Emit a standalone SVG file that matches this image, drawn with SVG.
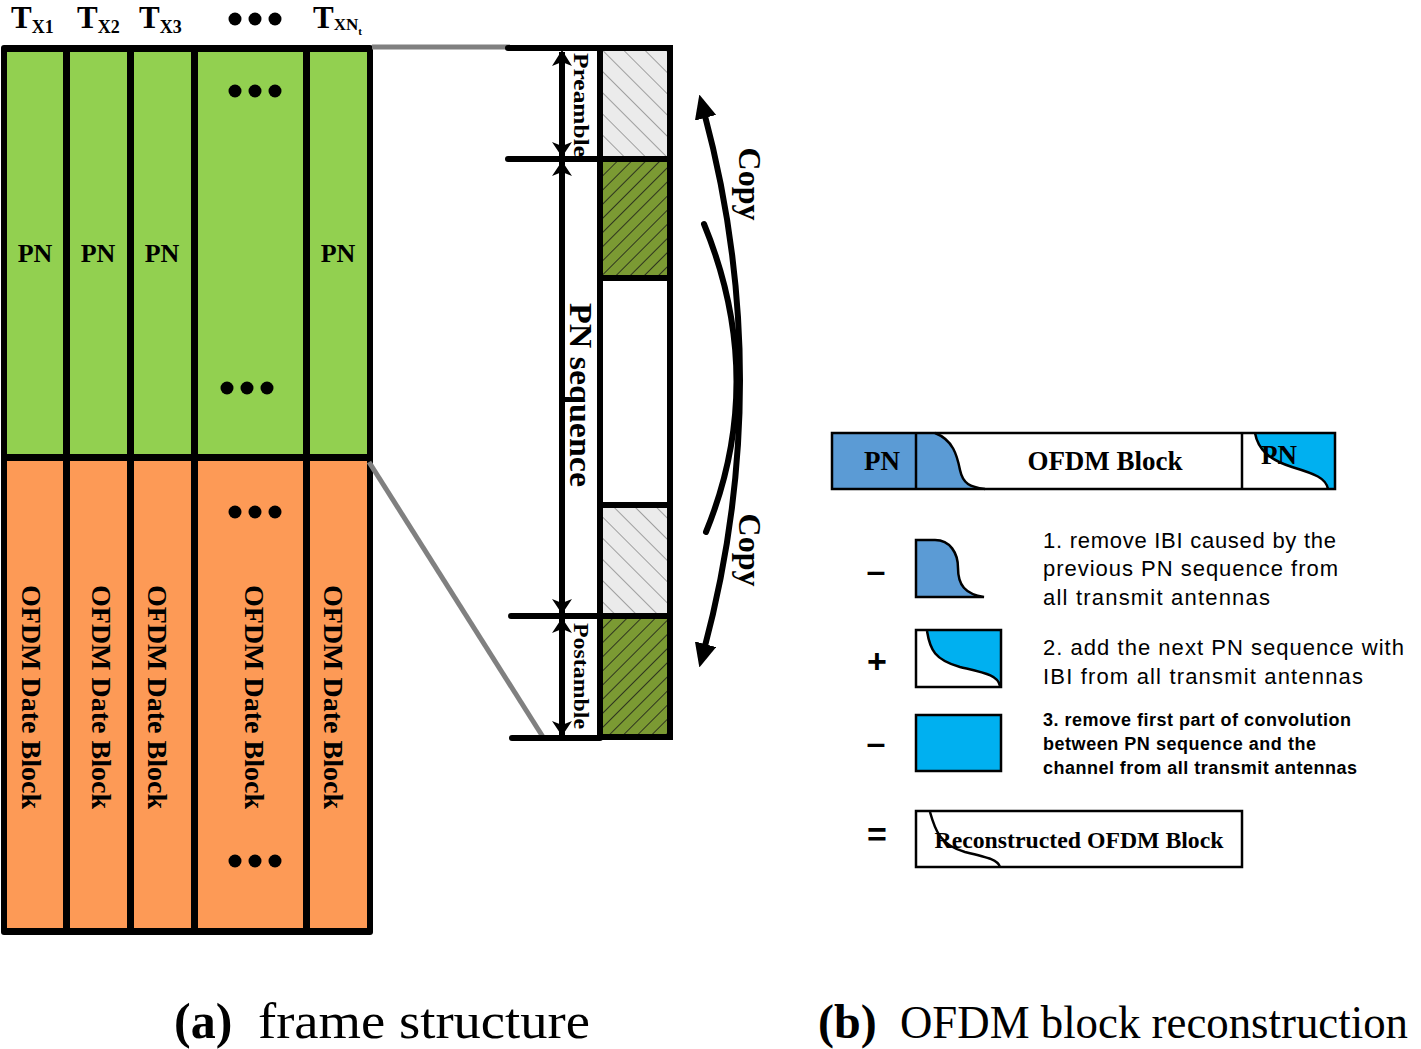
<svg xmlns="http://www.w3.org/2000/svg" width="1421" height="1049" viewBox="0 0 1421 1049">
<defs>
<style>
.serif{font-family:"Liberation Serif","Times New Roman",serif;}
.sans{font-family:"Liberation Sans",Arial,sans-serif;}
.b{font-weight:bold;}
.green{fill:#92d050;}
.orange{fill:#fd9a56;}
.blk{stroke:#000;fill:none;}
.gray{stroke:#808080;stroke-width:5;fill:none;}
.dot{fill:#000;}
.vt{font-family:"Liberation Serif","Times New Roman",serif;font-weight:bold;text-anchor:middle;dominant-baseline:central;}
.body{font-family:"Liberation Sans",Arial,sans-serif;font-size:22px;fill:#000;}
.body3{font-family:"Liberation Sans",Arial,sans-serif;font-size:18px;font-weight:bold;fill:#000;}
.op{font-family:"Liberation Sans",Arial,sans-serif;font-size:34px;font-weight:bold;text-anchor:middle;}
</style>
<pattern id="grayHatch" patternUnits="userSpaceOnUse" width="15" height="15" patternTransform="rotate(-45)">
<rect width="15" height="15" fill="#ebebeb"/>
<line x1="0" y1="0" x2="0" y2="15" stroke="#8c8c8c" stroke-width="1.6"/>
</pattern>
<pattern id="oliveHatch" patternUnits="userSpaceOnUse" width="10" height="10" patternTransform="rotate(45)">
<rect width="10" height="10" fill="#7b9a33"/>
<line x1="0" y1="0" x2="0" y2="10" stroke="#1a1a1a" stroke-width="1.6"/>
</pattern>
<marker id="ah" markerUnits="userSpaceOnUse" viewBox="0 0 24 22" markerWidth="24" markerHeight="22" refX="6" refY="11" orient="auto-start-reverse">
<path d="M0,0 L24,11 L0,22 Z" fill="#000"/>
</marker>
</defs>

<rect width="1421" height="1049" fill="#fff"/>

<!-- header labels -->
<g id="headers" class="serif b">
<text x="11" y="28" font-size="31">T<tspan font-size="18" dy="5">X1</tspan></text>
<text x="77" y="28" font-size="31">T<tspan font-size="18" dy="5">X2</tspan></text>
<text x="139" y="28" font-size="31">T<tspan font-size="18" dy="5">X3</tspan></text>
<circle class="dot" cx="235" cy="19" r="6.5"/>
<circle class="dot" cx="255" cy="19" r="6.5"/>
<circle class="dot" cx="275" cy="19" r="6.5"/>
<text x="313" y="28" font-size="31">T<tspan font-size="17" dy="2">XN</tspan><tspan font-size="11" dy="5">t</tspan></text>
</g>

<!-- frame structure -->
<g id="frame">
<rect x="1" y="45" width="372" height="890" rx="3" fill="#000"/>
<g id="col1">
<rect class="green" x="7" y="52" width="56" height="402"/>
<rect class="orange" x="7" y="461" width="56" height="467"/>
<text class="serif b" x="35" y="262" font-size="26" text-anchor="middle">PN</text>
<text class="vt" font-size="28" transform="translate(31,697) rotate(90)">OFDM Date Block</text>
</g>
<g id="col2">
<rect class="green" x="70" y="52" width="57" height="402"/>
<rect class="orange" x="70" y="461" width="57" height="467"/>
<text class="serif b" x="98" y="262" font-size="26" text-anchor="middle">PN</text>
<text class="vt" font-size="28" transform="translate(101,697) rotate(90)">OFDM Date Block</text>
</g>
<g id="col3">
<rect class="green" x="134" y="52" width="57" height="402"/>
<rect class="orange" x="134" y="461" width="57" height="467"/>
<text class="serif b" x="162" y="262" font-size="26" text-anchor="middle">PN</text>
<text class="vt" font-size="28" transform="translate(157,697) rotate(90)">OFDM Date Block</text>
</g>
<g id="col4">
<rect class="green" x="198" y="52" width="105" height="402"/>
<rect class="orange" x="198" y="461" width="105" height="467"/>
<circle class="dot" cx="235" cy="91" r="6.5"/><circle class="dot" cx="255" cy="91" r="6.5"/><circle class="dot" cx="275" cy="91" r="6.5"/>
<circle class="dot" cx="227" cy="388" r="6.5"/><circle class="dot" cx="247" cy="388" r="6.5"/><circle class="dot" cx="267" cy="388" r="6.5"/>
<circle class="dot" cx="235" cy="512" r="6.5"/><circle class="dot" cx="255" cy="512" r="6.5"/><circle class="dot" cx="275" cy="512" r="6.5"/>
<circle class="dot" cx="235" cy="861" r="6.5"/><circle class="dot" cx="255" cy="861" r="6.5"/><circle class="dot" cx="275" cy="861" r="6.5"/>
<text class="vt" font-size="28" transform="translate(254,697) rotate(90)">OFDM Date Block</text>
</g>
<g id="col5">
<rect class="green" x="310" y="52" width="57" height="402"/>
<rect class="orange" x="310" y="461" width="57" height="467"/>
<text class="serif b" x="338" y="262" font-size="26" text-anchor="middle">PN</text>
<text class="vt" font-size="28" transform="translate(333,697) rotate(90)">OFDM Date Block</text>
</g>
</g>

<!-- PN sequence detail -->
<g id="pnDetail">
<rect x="600" y="48" width="70" height="111" fill="url(#grayHatch)"/>
<rect x="600" y="161" width="70" height="115" fill="url(#oliveHatch)"/>
<rect x="600" y="280" width="70" height="224" fill="#fff"/>
<rect x="600" y="506" width="70" height="108" fill="url(#grayHatch)"/>
<rect x="600" y="618" width="70" height="118" fill="url(#oliveHatch)"/>
<g class="blk" stroke-width="6">
<rect x="600" y="48" width="70" height="689"/>
<line x1="600" y1="159" x2="670" y2="159"/>
<line x1="600" y1="278" x2="670" y2="278"/>
<line x1="600" y1="505" x2="670" y2="505"/>
<line x1="600" y1="616" x2="670" y2="616"/>
</g>
<text class="vt" font-size="22" transform="translate(581,105) rotate(90)" textLength="104" lengthAdjust="spacingAndGlyphs">Preamble</text>
<text class="vt" font-size="31" transform="translate(580,395) rotate(90)" textLength="184" lengthAdjust="spacingAndGlyphs">PN sequence</text>
<text class="vt" font-size="22" transform="translate(581,676) rotate(90)" textLength="106" lengthAdjust="spacingAndGlyphs">Postamble</text>
</g>

<!-- connectors -->
<g id="connectors">
<line class="gray" x1="372" y1="47" x2="510" y2="47"/>
<line class="gray" x1="369" y1="462" x2="543" y2="737"/>
<g class="blk" stroke-width="6" stroke-linecap="round">
<line x1="508" y1="48" x2="600" y2="48"/>
<line x1="508" y1="159" x2="600" y2="159"/>
<line x1="511" y1="616" x2="600" y2="616"/>
<line x1="512" y1="738" x2="600" y2="738"/>
<line x1="562" y1="52" x2="562" y2="735" stroke-linecap="butt"/>
</g>
<g fill="#000">
<path d="M562,50 L572,66 L562,62 L552,66 Z"/>
<path d="M562,157 L552,142 L562,146 L572,142 Z"/>
<path d="M562,161 L572,176 L562,172 L552,176 Z"/>
<path d="M562,614 L552,599 L562,603 L572,599 Z"/>
<path d="M562,618 L572,633 L562,629 L552,633 Z"/>
<path d="M562,736 L552,721 L562,725 L572,721 Z"/>
</g>
<path d="M704,112 Q776,380 704,650" class="blk" stroke-width="6" marker-start="url(#ah)" marker-end="url(#ah)"/>
<path d="M704,224 Q768,380 706,532" class="blk" stroke-width="6" stroke-linecap="round"/>
<text class="vt" font-size="32" transform="translate(750,184) rotate(90)">Copy</text>
<text class="vt" font-size="32" transform="translate(750,550) rotate(90)">Copy</text>
</g>

<!-- OFDM block bar -->
<g id="bar">
<rect x="832" y="433" width="84" height="56" fill="#5b9bd5"/>
<path d="M916,433 L935,433 C953,440 957,455 960,470 C963,484 970,487 985,489 L916,489 Z" fill="#5b9bd5"/>
<path d="M935,433 C953,440 957,455 960,470 C963,484 970,487 985,489" class="blk" stroke-width="2.5"/>
<path d="M1255,433 C1258,450 1270,460 1292,467 C1315,474 1326,478 1328,489 L1335,489 L1335,433 Z" fill="#00b0f0"/>
<path d="M1255,433 C1258,450 1270,460 1292,467 C1315,474 1326,478 1328,489" class="blk" stroke-width="2.5"/>
<rect x="832" y="433" width="503" height="56" class="blk" stroke-width="2.5"/>
<line x1="916" y1="433" x2="916" y2="489" class="blk" stroke-width="2.5"/>
<line x1="1242" y1="433" x2="1242" y2="489" class="blk" stroke-width="2.5"/>
<text class="serif b" x="882" y="470" font-size="27" text-anchor="middle">PN</text>
<text class="serif b" x="1105" y="470" font-size="27" text-anchor="middle">OFDM Block</text>
<text class="serif b" x="1279" y="464" font-size="27" text-anchor="middle">PN</text>
</g>

<!-- step 1 -->
<g id="step1">
<text class="op" x="876" y="582">–</text>
<path d="M916,540 L935,540 C950,540 958,553 958,568 C958,585 965,594 984,597 L916,597 Z" fill="#5b9bd5" stroke="#000" stroke-width="2.5"/>
<text class="body" x="1043" y="548" textLength="293" lengthAdjust="spacing">1. remove IBI caused by the</text>
<text class="body" x="1043" y="576" textLength="295" lengthAdjust="spacing">previous PN sequence from</text>
<text class="body" x="1043" y="605" textLength="227" lengthAdjust="spacing">all transmit antennas</text>
</g>

<!-- step 2 -->
<g id="step2">
<text class="op" x="877" y="673">+</text>
<rect x="916" y="630" width="85" height="57" fill="#fff"/>
<path d="M927,631 C930,650 935,660 960,667 C985,673 998,675 1000,686 L1000,631 Z" fill="#00b0f0"/>
<path d="M927,631 C930,650 935,660 960,667 C985,673 998,675 1000,686" class="blk" stroke-width="2.5"/>
<rect x="916" y="630" width="85" height="57" class="blk" stroke-width="2.5"/>
<text class="body" x="1043" y="655" textLength="361" lengthAdjust="spacing">2. add the next PN sequence with</text>
<text class="body" x="1043" y="684" textLength="320" lengthAdjust="spacing">IBI from all transmit antennas</text>
</g>

<!-- step 3 -->
<g id="step3">
<text class="op" x="876" y="754">–</text>
<rect x="916" y="715" width="85" height="56" fill="#00b0f0" stroke="#000" stroke-width="2.5"/>
<text class="body3" x="1043" y="726" textLength="308" lengthAdjust="spacing">3. remove first part of convolution</text>
<text class="body3" x="1043" y="750" textLength="273" lengthAdjust="spacing">between PN sequence and the</text>
<text class="body3" x="1043" y="774" textLength="314" lengthAdjust="spacing">channel from all transmit antennas</text>
</g>

<!-- result -->
<g id="result">
<text class="op" x="877" y="846">=</text>
<rect x="916" y="811" width="326" height="56" fill="#fff" stroke="#000" stroke-width="2.5"/>
<path d="M930,812 C935,830 940,845 965,852 C990,858 998,860 1000,867" class="blk" stroke-width="2.5"/>
<text class="serif b" x="1079" y="848" font-size="24" text-anchor="middle" textLength="289" lengthAdjust="spacingAndGlyphs">Reconstructed OFDM Block</text>
</g>

<!-- captions -->
<g id="captions" class="serif">
<text x="174" y="1038" font-size="50" font-weight="bold">(a)</text>
<text x="258" y="1038" font-size="50" textLength="332" lengthAdjust="spacingAndGlyphs">frame structure</text>
<text x="818" y="1038" font-size="48" font-weight="bold">(b)</text>
<text x="900" y="1038" font-size="46" textLength="508" lengthAdjust="spacingAndGlyphs">OFDM block reconstruction</text>
</g>
</svg>
